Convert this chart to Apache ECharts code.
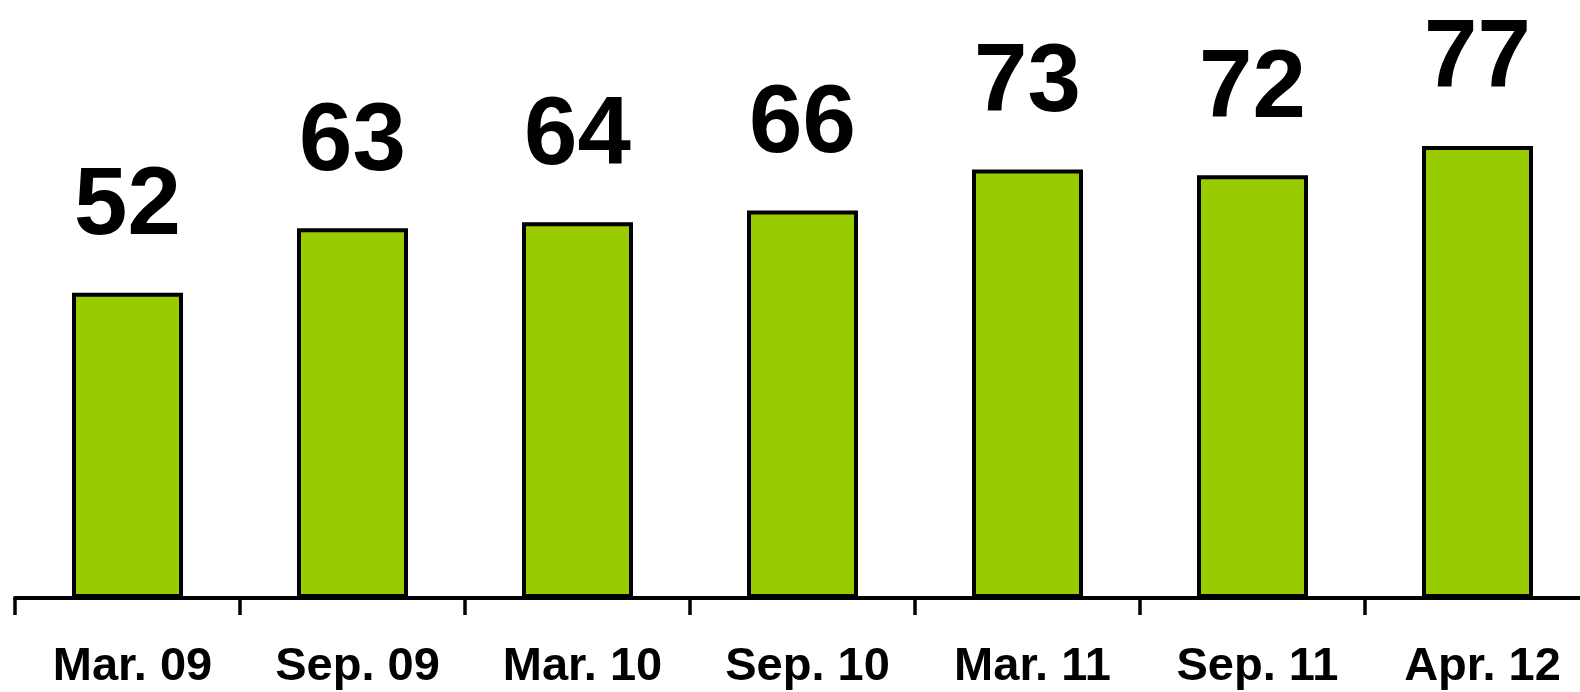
<!DOCTYPE html>
<html>
<head>
<meta charset="utf-8">
<script src="https://cdn.jsdelivr.net/npm/echarts@6/dist/echarts.min.js"></script>
<style>
html,body{margin:0;padding:0;background:#fff;}
#chart{width:1580px;height:692px;}
</style>
</head>
<body>
<div id="chart"></div>
<script>
const categories = ['Mar. 09', 'Sep. 09', 'Mar. 10', 'Sep. 10', 'Mar. 11', 'Sep. 11', 'Apr. 12'];
const values = [52, 63, 64, 66, 73, 72, 77];

const chart = echarts.init(document.getElementById('chart'));
chart.setOption({
  animation: false,
  backgroundColor: '#ffffff',
  grid: { left: 15, width: 1575, top: 11, height: 587, containLabel: false, outerBoundsMode: 'none' },
  xAxis: {
    type: 'category',
    data: categories,
    axisLine: { lineStyle: { color: '#000', width: 4 } },
    axisTick: { show: true, length: 17, lineStyle: { color: '#000', width: 3.5 } },
    axisLabel: {
      color: '#000',
      fontFamily: 'Liberation Sans, Arial, sans-serif',
      fontWeight: 'bold',
      fontSize: 47,
      margin: 46,
      padding: [0, 0, 0, 10],
      interval: 0
    }
  },
  yAxis: {
    type: 'value',
    min: 0,
    max: 100,
    show: false,
    splitLine: { show: false }
  },
  series: [{
    type: 'bar',
    data: values,
    barWidth: 111,
    itemStyle: { color: '#99CC00', borderColor: '#000', borderWidth: 4 },
    label: {
      show: true,
      position: 'top',
      distance: 37,
      color: '#000',
      fontFamily: 'Liberation Sans, Arial, sans-serif',
      fontWeight: 'bold',
      fontSize: 96
    }
  }]
});
</script>
</body>
</html>
